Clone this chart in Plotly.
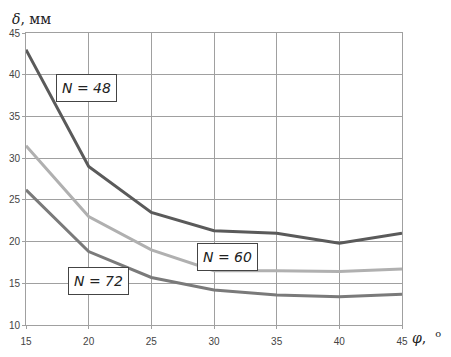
import plotly.graph_objects as go

phi = [15, 20, 25, 30, 35, 40, 45]
n48 = [43, 29, 23.5, 21.3, 21, 19.8, 21]
n60 = [31.5, 23, 19, 16.5, 16.5, 16.4, 16.7]
n72 = [26.2, 18.8, 15.7, 14.2, 13.6, 13.4, 13.7]
x_ticks = [15, 20, 25, 30, 35, 40, 45]
y_ticks = [10, 15, 20, 25, 30, 35, 40, 45]

fig = go.Figure()
fig.add_trace(go.Scatter(x=phi, y=n72, mode="lines", line=dict(color="#7a7a7a", width=3)))
fig.add_trace(go.Scatter(x=phi, y=n60, mode="lines", line=dict(color="#b0b0b0", width=3)))
fig.add_trace(go.Scatter(x=phi, y=n48, mode="lines", line=dict(color="#5a5a5a", width=3)))

boxstyle = dict(showarrow=False, bordercolor="#444", borderwidth=1, bgcolor="white",
                font=dict(family="DejaVu Sans", size=14, color="#222"), borderpad=5)
fig.add_annotation(x=19.8, y=38.4, text="<i>N = 48</i>", **boxstyle)
fig.add_annotation(x=31.1, y=18.15, text="<i>N = 60</i>", **boxstyle)
fig.add_annotation(x=20.75, y=15.27, text="<i>N = 72</i>", **boxstyle)

fig.add_annotation(xref="paper", yref="paper", x=-0.043, y=1.012, xanchor="left", yanchor="bottom",
                   text="<i>δ</i>, мм", showarrow=False,
                   font=dict(family="DejaVu Serif", size=14, color="#222"))
fig.add_annotation(xref="paper", yref="paper", x=1.022, y=-0.003, xanchor="left", yanchor="top",
                   text="<i>φ</i>,  <sup>o</sup>", showarrow=False,
                   font=dict(family="DejaVu Serif", size=14, color="#222"))

axis_common = dict(showgrid=True, gridcolor="#a0a0a0", gridwidth=1,
                   zeroline=False, showline=True, linecolor="#a0a0a0", mirror=True,
                   ticks="outside", ticklen=3, tickcolor="#a0a0a0", automargin=False,
                   tickfont=dict(family="Liberation Sans", size=10, color="#444"))
fig.update_layout(
    width=443, height=349,
    margin=dict(l=18, r=49, t=25, b=32),
    paper_bgcolor="white", plot_bgcolor="white",
    showlegend=False,
    xaxis=dict(range=[15, 45], tickvals=x_ticks, ticklabelstandoff=4, **axis_common),
    yaxis=dict(range=[10, 45], tickvals=y_ticks, **axis_common),
)
fig.write_html("out.html")
